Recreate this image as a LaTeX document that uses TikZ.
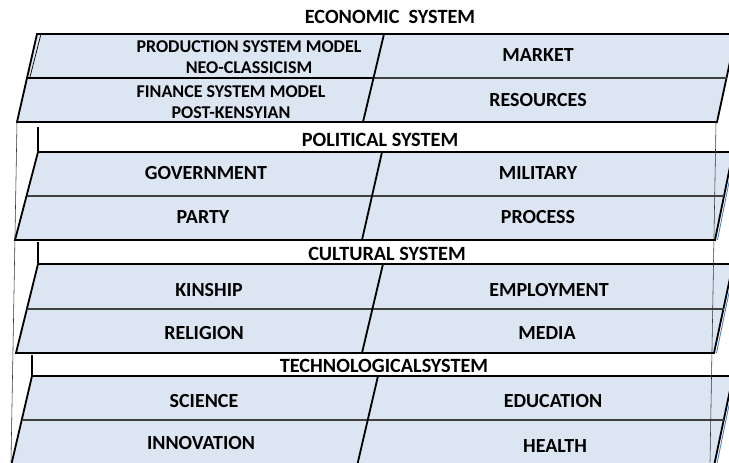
\documentclass[tikz,border=0pt]{standalone}
\usepackage{fontspec}
\setmainfont{Carlito}
\usepackage{xcolor}
\usetikzlibrary{calc}
\definecolor{cellblue}{RGB}{220,230,242}
\definecolor{sideblue}{RGB}{79,129,189}

\begin{document}
\begin{tikzpicture}[x=0.025cm,y=-0.025cm,
                    block/.style={fill=cellblue,draw=black,line width=1.3pt,line join=miter},
                    divider/.style={draw=black,line width=1.3pt},
                    row line/.style={draw=black!75,line width=0.8pt},
                    back line/.style={draw=black!80,line width=0.4pt},
                    side line/.style={draw=sideblue,line width=0.6pt},
                    cell/.style={font=\bfseries\fontsize{14.2}{17}\selectfont,align=center},
                    small cell/.style={font=\bfseries\fontsize{12.8}{14.9}\selectfont,align=center},
                    title/.style={font=\bfseries\fontsize{14.4}{17}\selectfont}]

 \clip (0,0) rectangle (729,462);

 % economic system
 \node[title] (econ) at (390,17) {ECONOMIC~ SYSTEM};

 \path[block] (37,34) -- (736,34) -- (717,122) -- (17,122) -- cycle;
 \draw[line width=0.5pt] (41,34) -- (30,77);
 \draw[line width=1.4pt] (27,78) -- (373,78);
 \draw[row line] (373,78) -- (727,78);
 \draw[divider] (384,34) -- (363,122);

 \node[small cell] (prod) at (249,57.5) {PRODUCTION SYSTEM MODEL\\NEO-CLASSICISM};

 \node[small cell] (finance) at (231,102) {FINANCE SYSTEM MODEL\\POST-KENSYIAN};

 \node[cell] (market) at (538,55) {MARKET};

 \node[cell] (resources) at (538,100) {RESOURCES};

 % political system
 \draw[divider] (38,127) -- (38,152);
 \node[title] (pol) at (380,140) {POLITICAL SYSTEM};

 \path[block] (38,152) -- (733,152) -- (715,240) -- (15,240) -- cycle;
 \draw[row line] (27,196) -- (724,196);
 \draw[divider] (382,152) -- (362,240);
 \draw[side line] (735,152) -- (717.5,240);

 \node[cell] (gov) at (206,173) {GOVERNMENT};

 \node[cell] (party) at (203,217) {PARTY};

 \node[cell] (military) at (538,173) {MILITARY};

 \node[cell] (process) at (538,217) {PROCESS};

 % cultural system
 \draw[divider] (38,242) -- (38,264);
 \node[title] (cult) at (387,254) {CULTURAL SYSTEM};

 \path[block] (38,264) -- (733,264) -- (714,353) -- (16,353) -- cycle;
 \draw[row line] (27,309) -- (724,309);
 \draw[divider] (383,264) -- (362,353);
 \draw[side line] (735,264) -- (716.5,353);

 \node[cell] (kinship) at (209,290) {KINSHIP};

 \node[cell] (religion) at (204,333) {RELIGION};

 \node[cell] (employment) at (549,290) {EMPLOYMENT};

 \node[cell] (media) at (547,333) {MEDIA};

 % technological system
 \draw[divider] (32,355) -- (32,376);
 \node[title] (tech) at (384,366) {TECHNOLOGICALSYSTEM};

 \path[block] (32,376) -- (733,376) -- (714,466) -- (11,466) -- cycle;
 \draw[row line] (22,420) -- (724,420);
 \draw[divider] (378,376) -- (357,466);
 \draw[side line] (735,376) -- (716.5,466);

 \node[cell] (science) at (204,401) {SCIENCE};

 \node[cell] (innovation) at (201,443) {INNOVATION};

 \node[cell] (education) at (553,401) {EDUCATION};

 \node[cell] (health) at (555,446) {HEALTH};

 % back edges of the stack
 \draw[back line] (17,122) -- (11,462);
 \draw[back line] (716,122) -- (710,462);

\end{tikzpicture}
\end{document}
